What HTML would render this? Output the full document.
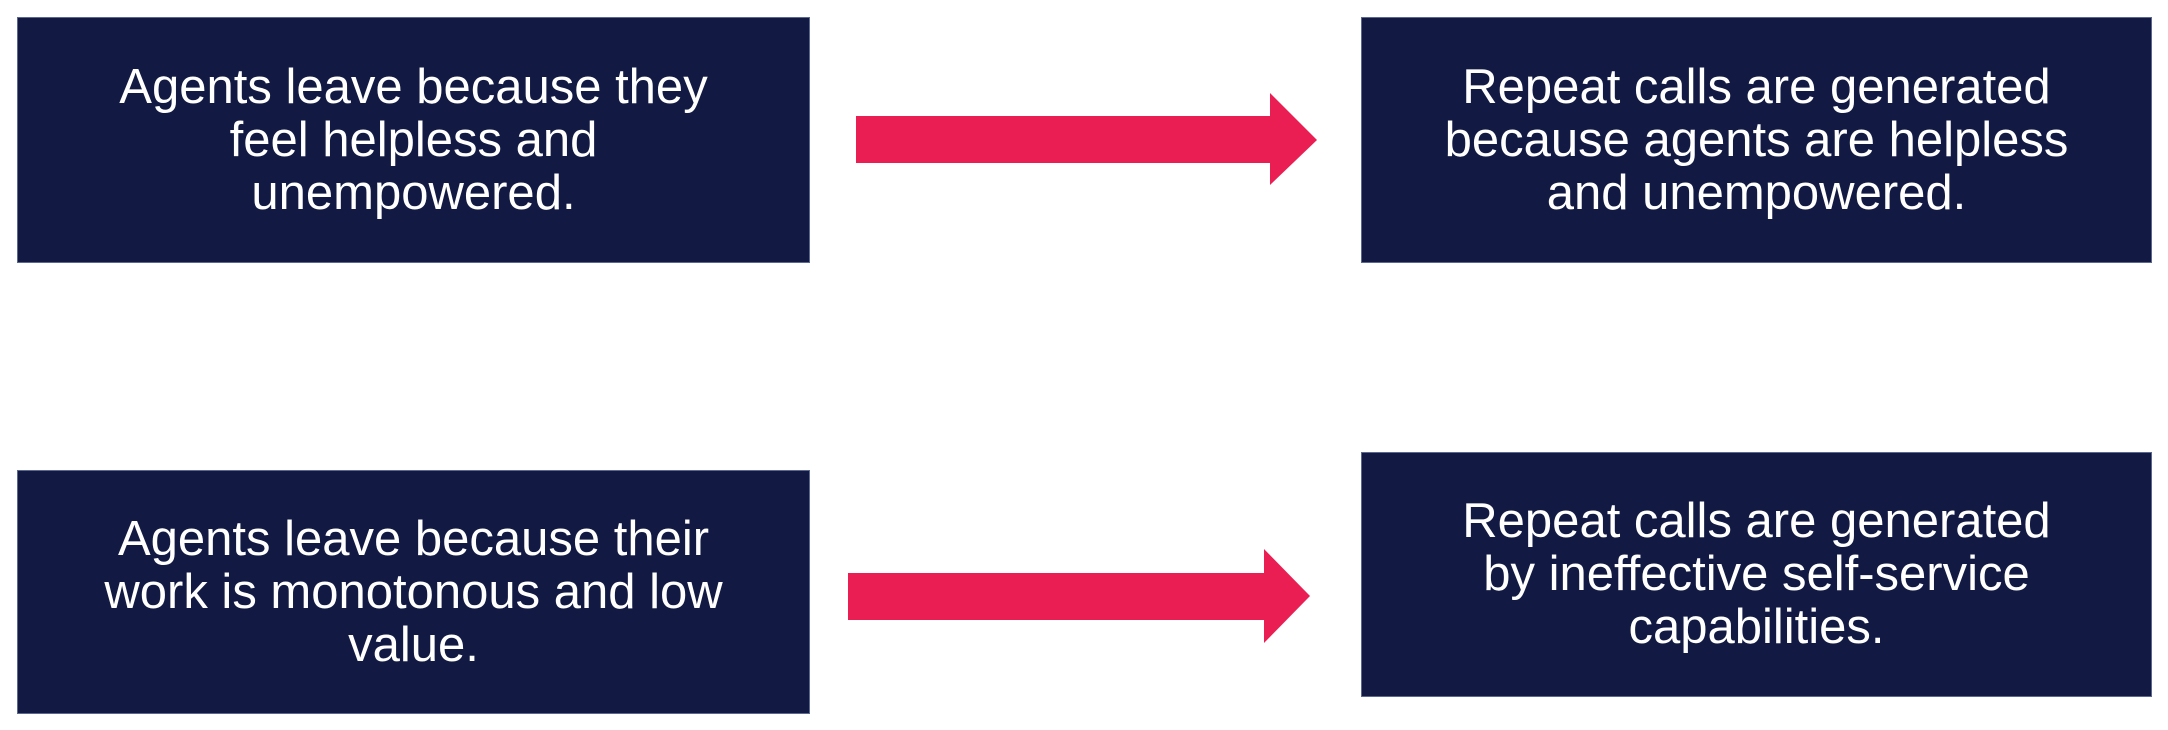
<!DOCTYPE html>
<html><head><style>
body{margin:0;width:2168px;height:730px;background:#fff;position:relative;overflow:hidden;font-family:"Liberation Sans",sans-serif}
.b{position:absolute;background:#121a43;border:1px solid #5a6890;box-sizing:border-box;display:flex;align-items:center;justify-content:center;text-align:center;color:#fff;font-size:49px;line-height:53px;white-space:nowrap}
</style></head><body>
<div class="b" style="left:17px;top:17px;width:793px;height:246px"><div>Agents leave because they<br>feel helpless and<br>unempowered.</div></div>
<div class="b" style="left:1361px;top:17px;width:791px;height:246px"><div>Repeat calls are generated<br>because agents are helpless<br>and unempowered.</div></div>
<div class="b" style="left:17px;top:470px;width:793px;height:244px"><div>Agents leave because their<br>work is monotonous and low<br>value.</div></div>
<div class="b" style="left:1361px;top:452px;width:791px;height:245px"><div>Repeat calls are generated<br>by ineffective self-service<br>capabilities.</div></div>
<svg width="2168" height="730" style="position:absolute;left:0;top:0">
<polygon fill="#ea1e52" points="856,116 1270,116 1270,93 1317,140 1270,185 1270,163 856,163"/>
<polygon fill="#ea1e52" points="848,573 1264,573 1264,549 1310,596 1264,643 1264,620 848,620"/>
</svg>
</body></html>
